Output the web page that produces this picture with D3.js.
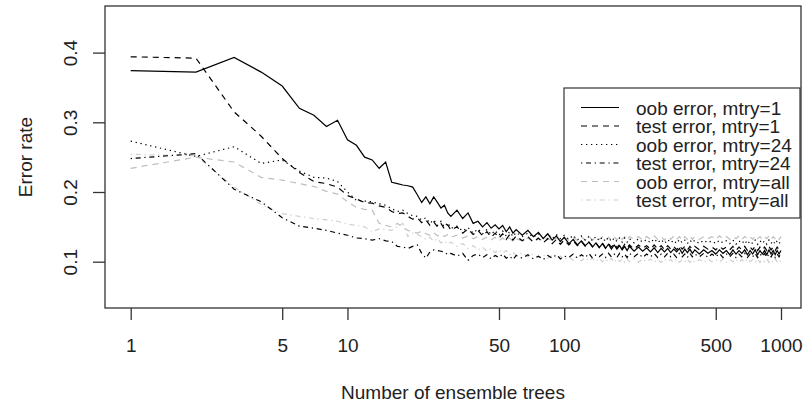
<!DOCTYPE html>
<html>
<head>
<meta charset="utf-8">
<script src="https://cdn.jsdelivr.net/npm/d3@7"></script>
<style>
  html, body { margin: 0; padding: 0; background: #fff; }
  svg { display: block; font-family: "Liberation Sans", Arial, sans-serif; }
</style>
</head>
<body>
<div id="chart"></div>
<script>
// number of trees in the ensemble (x positions of the points)
const trees = [].concat(
    d3.range(1, 31),
    d3.range(32, 61, 2),
    d3.range(64, 101, 4),
    d3.range(105, 201, 5),
    d3.range(210, 401, 10),
    d3.range(420, 1001, 20)
);

const oobM1 = [
    0.374,0.372,0.393,0.372,0.352,0.320,0.310,0.294,0.303,0.275,
    0.267,0.250,0.246,0.234,0.243,0.214,0.212,0.210,0.209,0.207,
    0.196,0.185,0.193,0.183,0.193,0.185,0.177,0.181,0.170,0.165,
    0.174,0.162,0.170,0.155,0.158,0.150,0.156,0.148,0.153,0.147,0.152,0.143,0.150,0.141,0.146,
    0.138,0.145,0.136,0.142,0.133,0.140,0.131,0.137,0.129,0.135,
    0.126,0.132,0.124,0.130,0.123,0.128,0.121,0.127,0.120,0.126,0.119,0.125,0.118,0.124,0.118,0.123,0.117,0.122,0.116,0.122,
    0.115,0.121,0.115,0.120,0.114,0.120,0.113,0.119,0.114,0.119,0.113,0.118,0.114,0.119,0.112,0.118,0.113,0.118,0.112,0.117,
    0.111,0.117,0.112,0.116,0.111,0.117,0.112,0.116,0.110,0.117,0.111,0.116,0.112,0.117,0.110,
    0.116,0.111,0.117,0.110,0.116,0.111,0.116,0.110,0.117,0.111,0.116,0.110,0.116,0.111,0.116
];
const testM1 = [
    0.394,0.392,0.315,0.280,0.248,0.228,0.215,0.212,0.207,0.195,
    0.190,0.185,0.184,0.180,0.178,0.172,0.169,0.170,0.165,0.161,
    0.163,0.156,0.160,0.152,0.157,0.150,0.155,0.147,0.153,0.145,
    0.150,0.141,0.147,0.139,0.145,0.137,0.143,0.135,0.141,0.134,0.140,0.132,0.139,0.131,0.137,
    0.130,0.136,0.128,0.134,0.127,0.133,0.126,0.132,0.125,0.131,
    0.124,0.130,0.123,0.129,0.122,0.128,0.122,0.127,0.121,0.127,0.120,0.126,0.121,0.126,0.120,0.125,0.119,0.125,0.120,0.124,
    0.118,0.124,0.119,0.123,0.118,0.124,0.118,0.123,0.117,0.123,0.118,0.122,0.117,0.123,0.118,0.122,0.117,0.122,0.118,0.122,
    0.117,0.122,0.118,0.121,0.117,0.122,0.118,0.121,0.117,0.122,0.116,0.121,0.117,0.122,0.116,
    0.121,0.117,0.122,0.116,0.121,0.117,0.121,0.116,0.122,0.117,0.121,0.116,0.121,0.117,0.121
];
const oobM24 = [
    0.273,0.251,0.265,0.241,0.246,0.230,0.221,0.220,0.215,0.200,
    0.188,0.187,0.186,0.183,0.181,0.176,0.172,0.174,0.169,0.166,
    0.165,0.160,0.163,0.155,0.160,0.152,0.158,0.150,0.156,0.148,
    0.151,0.144,0.149,0.141,0.147,0.140,0.146,0.139,0.145,0.138,0.144,0.137,0.143,0.136,0.142,
    0.136,0.141,0.135,0.140,0.134,0.140,0.133,0.139,0.133,0.138,
    0.132,0.138,0.131,0.137,0.131,0.136,0.130,0.136,0.130,0.135,0.129,0.135,0.129,0.134,0.129,0.134,0.128,0.134,0.128,0.133,
    0.127,0.133,0.128,0.132,0.127,0.133,0.127,0.132,0.126,0.132,0.127,0.131,0.126,0.132,0.127,0.131,0.126,0.131,0.127,0.131,
    0.126,0.131,0.127,0.130,0.126,0.131,0.127,0.130,0.126,0.131,0.125,0.130,0.126,0.131,0.125,
    0.130,0.126,0.131,0.125,0.130,0.126,0.130,0.125,0.131,0.126,0.130,0.125,0.130,0.126,0.130
];
const testM24 = [
    0.248,0.255,0.204,0.186,0.163,0.151,0.148,0.145,0.141,0.138,
    0.134,0.133,0.131,0.133,0.130,0.129,0.122,0.121,0.119,0.122,
    0.124,0.112,0.105,0.114,0.117,0.116,0.115,0.114,0.110,0.112,
    0.108,0.112,0.102,0.109,0.111,0.106,0.110,0.104,0.109,0.106,0.111,0.105,0.108,0.103,0.109,
    0.105,0.110,0.104,0.108,0.103,0.109,0.105,0.110,0.104,0.108,
    0.106,0.111,0.105,0.110,0.106,0.112,0.105,0.110,0.107,0.111,0.106,0.112,0.107,0.111,0.106,0.112,0.107,0.111,0.106,0.112,
    0.107,0.112,0.106,0.111,0.107,0.112,0.106,0.111,0.107,0.112,0.107,0.111,0.106,0.112,0.107,0.111,0.106,0.112,0.107,0.111,
    0.107,0.112,0.106,0.111,0.107,0.112,0.106,0.111,0.107,0.112,0.106,0.111,0.107,0.112,0.106,
    0.111,0.107,0.112,0.106,0.111,0.107,0.112,0.106,0.111,0.107,0.112,0.106,0.111,0.107,0.112
];
const oobAll = [
    0.234,0.250,0.243,0.221,0.217,0.212,0.208,0.201,0.197,0.186,
    0.178,0.175,0.174,0.155,0.152,0.150,0.155,0.149,0.145,0.143,
    0.141,0.144,0.140,0.138,0.142,0.137,0.140,0.136,0.139,0.135,
    0.138,0.134,0.137,0.133,0.136,0.132,0.135,0.131,0.135,0.130,0.134,0.130,0.134,0.129,0.133,
    0.130,0.134,0.129,0.133,0.130,0.134,0.129,0.134,0.130,0.134,
    0.131,0.135,0.130,0.135,0.131,0.136,0.131,0.135,0.132,0.136,0.131,0.135,0.132,0.136,0.131,0.136,0.132,0.136,0.131,0.136,
    0.132,0.136,0.131,0.136,0.132,0.137,0.132,0.136,0.131,0.136,0.132,0.137,0.132,0.136,0.131,0.136,0.132,0.137,0.132,0.136,
    0.132,0.136,0.133,0.136,0.132,0.137,0.133,0.136,0.132,0.136,0.133,0.137,0.132,0.136,0.133,
    0.136,0.132,0.137,0.133,0.136,0.132,0.136,0.133,0.137,0.132,0.136,0.133,0.136,0.132,0.136
];
const testAll = [
    0.254,0.252,0.207,0.182,0.169,0.165,0.162,0.160,0.158,0.154,
    0.152,0.150,0.143,0.147,0.146,0.145,0.150,0.155,0.136,0.141,
    0.139,0.136,0.132,0.135,0.129,0.133,0.127,0.130,0.125,0.128,
    0.122,0.126,0.119,0.123,0.117,0.121,0.115,0.119,0.113,0.117,0.112,0.116,0.110,0.114,0.109,
    0.113,0.107,0.111,0.106,0.110,0.105,0.109,0.104,0.108,0.103,
    0.107,0.102,0.106,0.101,0.106,0.101,0.105,0.100,0.105,0.100,0.104,0.100,0.105,0.099,0.104,0.100,0.104,0.099,0.104,0.100,
    0.104,0.099,0.104,0.100,0.104,0.099,0.103,0.099,0.104,0.100,0.103,0.099,0.104,0.099,0.103,0.100,0.104,0.099,0.103,0.099,
    0.103,0.099,0.104,0.100,0.103,0.099,0.104,0.099,0.103,0.100,0.104,0.099,0.103,0.099,0.104,
    0.100,0.103,0.099,0.104,0.099,0.103,0.100,0.104,0.099,0.103,0.099,0.104,0.100,0.103,0.099
];

const seriesNames = ["oob error, mtry=1", "test error, mtry=1", "oob error, mtry=24",
                     "test error, mtry=24", "oob error, mtry=all", "test error, mtry=all"];
const xTicks = [1, 5, 10, 50, 100, 500, 1000];
const yTicks = [0.1, 0.2, 0.3, 0.4];

// line styles, R lty 1/2/3/4 look
const series = [
    { name: seriesNames[0], values: oobM1,   color: "#000", dash: null },
    { name: seriesNames[1], values: testM1,  color: "#000", dash: "6,5" },
    { name: seriesNames[2], values: oobM24,  color: "#000", dash: "1.3,3.7" },
    { name: seriesNames[3], values: testM24, color: "#000", dash: "1.3,3.7,5,3.7" },
    { name: seriesNames[4], values: oobAll,  color: "#bebebe", dash: "6,5" },
    { name: seriesNames[5], values: testAll, color: "#cfcfcf", dash: "1.3,3.7,5,3.7" }
];
series.forEach(s => { if (s.values.length !== trees.length) console.error(s.name, s.values.length, trees.length); });

const W = 803, H = 405;
const box = { left: 105, right: 801, top: 6, bottom: 308 };
const fs = 19;

const svg = d3.select("#chart").append("svg")
    .attr("width", W).attr("height", H);

const x = d3.scaleLog().domain([1, 1000]).range([130.7, 781]);
const y = d3.scaleLinear().domain([0.1, 0.4]).range([261.7, 52.6]);

// lines first, box on top
const line = d3.line().x(d => x(d[0])).y(d => y(d[1]));
const lineG = svg.append("g").attr("fill", "none").attr("stroke-width", 1.2);
// draw grey ones underneath
[4, 5, 0, 1, 2, 3].forEach(i => {
    const s = series[i];
    lineG.append("path")
        .attr("d", line(trees.map((t, j) => [t, s.values[j]])))
        .attr("stroke", s.color)
        .attr("stroke-dasharray", s.dash);
});

svg.append("rect")
    .attr("x", box.left).attr("y", box.top)
    .attr("width", box.right - box.left).attr("height", box.bottom - box.top)
    .attr("fill", "none").attr("stroke", "#333").attr("stroke-width", 1.3);

// x axis
const xAxis = svg.append("g").attr("transform", `translate(0,${box.bottom})`)
    .call(d3.axisBottom(x).tickValues(xTicks).tickFormat(d3.format("d"))
        .tickSize(12).tickPadding(16));
xAxis.select(".domain").remove();
xAxis.selectAll(".tick line").attr("stroke", "#333").attr("stroke-width", 1.3);
xAxis.selectAll(".tick text").attr("font-size", fs).attr("fill", "#222")
    .attr("font-family", "Liberation Sans, Arial, sans-serif")
    .attr("dy", null).attr("y", 44);

// y axis
const yAxis = svg.append("g").attr("transform", `translate(${box.left},0)`)
    .call(d3.axisLeft(y).tickValues(yTicks).tickFormat(d3.format(".1f")).tickSize(12));
yAxis.select(".domain").remove();
yAxis.selectAll(".tick line").attr("stroke", "#333").attr("stroke-width", 1.3);
yAxis.selectAll(".tick text")
    .attr("font-size", fs).attr("fill", "#222")
    .attr("font-family", "Liberation Sans, Arial, sans-serif")
    .attr("x", null).attr("dy", null)
    .attr("text-anchor", "middle")
    .attr("transform", "translate(-28,0) rotate(-90)");

// axis titles
svg.append("text")
    .attr("x", (box.left + box.right) / 2).attr("y", 399)
    .attr("text-anchor", "middle").attr("font-size", fs).attr("fill", "#222")
    .text("Number of ensemble trees");
svg.append("text")
    .attr("transform", `translate(32,${(box.top + box.bottom) / 2}) rotate(-90)`)
    .attr("text-anchor", "middle").attr("font-size", fs).attr("fill", "#222")
    .text("Error rate");

// legend
const leg = svg.append("g");
leg.append("rect")
    .attr("x", 564).attr("y", 88).attr("width", 236).attr("height", 130)
    .attr("fill", "#fff").attr("stroke", "#333").attr("stroke-width", 1.2);
series.forEach((s, i) => {
    const ly = 107.5 + i * 18.5;
    leg.append("line")
        .attr("x1", 581).attr("x2", 619).attr("y1", ly).attr("y2", ly)
        .attr("stroke", s.color).attr("stroke-width", 1.2)
        .attr("stroke-dasharray", s.dash);
    leg.append("text")
        .attr("x", 636).attr("y", ly + 7)
        .attr("font-size", fs).attr("fill", "#222")
        .text(s.name);
});
</script>
</body>
</html>
